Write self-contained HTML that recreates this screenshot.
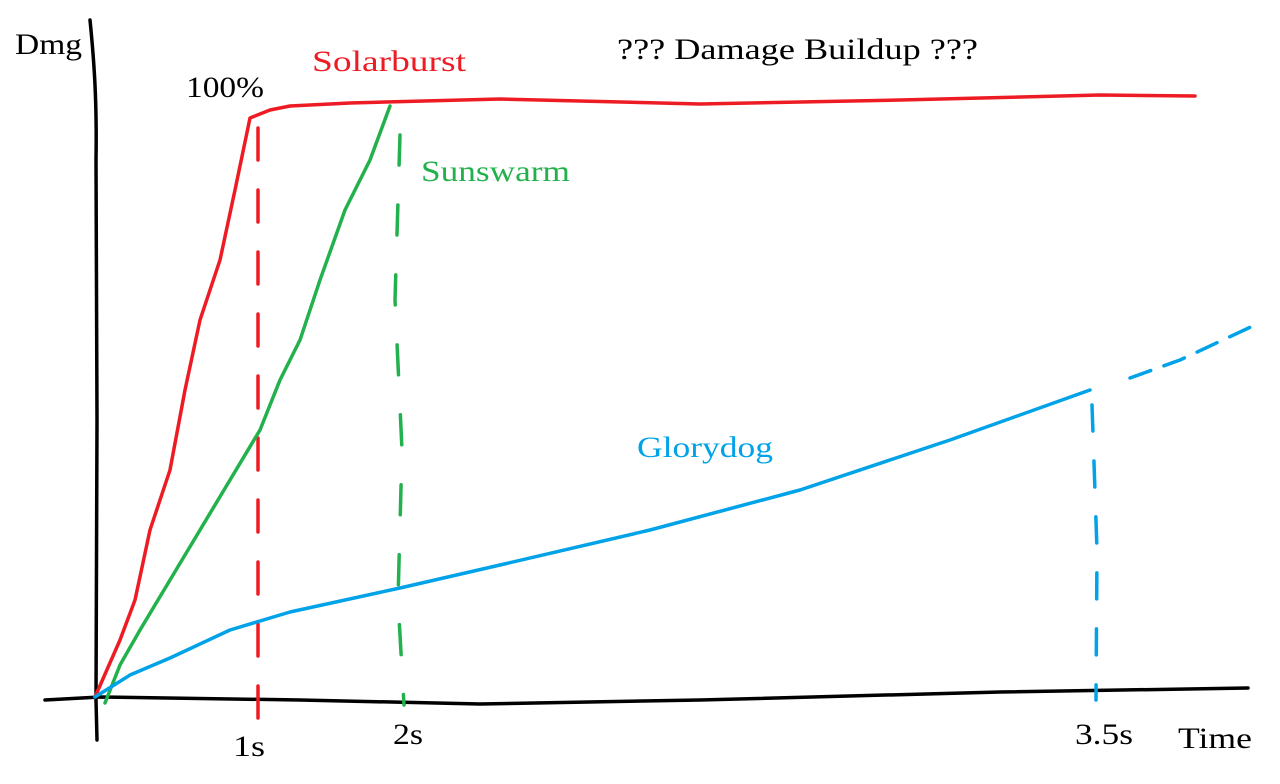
<!DOCTYPE html>
<html><head><meta charset="utf-8"><style>
html,body{margin:0;padding:0;background:#fff;}
svg{display:block;}
text{font-family:"Liberation Serif",serif;}
</style></head><body>
<svg width="1280" height="784" viewBox="0 0 1280 784" xmlns="http://www.w3.org/2000/svg">
<rect width="1280" height="784" fill="#fff"/>
<g fill="none" stroke-linecap="round" stroke-linejoin="round" stroke-width="3.5">
<path d="M90,20 C94,60 97,100 96,160 L97,420 L96,700 L97,740" stroke="#000"/>
<path d="M45,700 L100,697 L300,700 L480,704 L700,700 L1000,692 L1248,688" stroke="#000"/>
<path d="M95,697 L120,640 L135,600 L150,530 L170,470 L185,390 L200,320 L220,260 L235,190 L250,118 L270,110 L290,106 L350,103 L500,99 L700,104 L900,100 L1100,95 L1195,96" stroke="#ed1c24"/>
<path d="M258,128 L258,720" stroke="#ed1c24" stroke-dasharray="32,30"/>
<path d="M105,703 L120,665 L140,630 L170,580 L200,530 L230,480 L260,430 L280,380 L300,340 L320,280 L345,210 L370,160 L390,106" stroke="#22b14c"/>
<path d="M400,135 L395,300 L402,450 L398,600 L404,705" stroke="#22b14c" stroke-dasharray="30,40"/>
<path d="M95,697 L130,675 L170,658 L230,630 L290,612 L400,588 L500,565 L650,530 L800,490 L950,440 L1090,390" stroke="#00a2e8"/>
<path d="M1130,378 L1180,360 L1255,325" stroke="#00a2e8" stroke-dasharray="22,14"/>
<path d="M1092,405 L1097,550 L1096,700" stroke="#00a2e8" stroke-dasharray="26,30"/>
</g>
<g font-size="30" lengthAdjust="spacingAndGlyphs">
<text x="15" y="54" fill="#000" textLength="67" lengthAdjust="spacingAndGlyphs">Dmg</text>
<text x="186" y="97" fill="#000" textLength="78" lengthAdjust="spacingAndGlyphs">100%</text>
<text x="312" y="71" fill="#ed1c24" textLength="154" lengthAdjust="spacingAndGlyphs">Solarburst</text>
<text x="617" y="59" fill="#000" textLength="361" lengthAdjust="spacingAndGlyphs">??? Damage Buildup ???</text>
<text x="421" y="181" fill="#22b14c" textLength="149" lengthAdjust="spacingAndGlyphs">Sunswarm</text>
<text x="637" y="457" fill="#00a2e8" textLength="136" lengthAdjust="spacingAndGlyphs">Glorydog</text>
<text x="233" y="756" fill="#000" textLength="32" lengthAdjust="spacingAndGlyphs">1s</text>
<text x="393" y="744" fill="#000" textLength="30" lengthAdjust="spacingAndGlyphs">2s</text>
<text x="1075" y="744" fill="#000" textLength="58" lengthAdjust="spacingAndGlyphs">3.5s</text>
<text x="1178" y="748" fill="#000" textLength="74" lengthAdjust="spacingAndGlyphs">Time</text>
</g>
</svg>
</body></html>
